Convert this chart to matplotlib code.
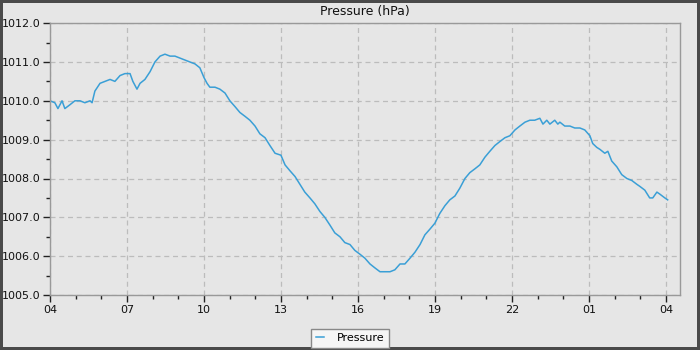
import matplotlib
matplotlib.use("Agg")
import matplotlib.pyplot as plt
import matplotlib.dates as mdates
import numpy as np
import pandas as pd

# Hours elapsed since 04:00 and the pressure reading at each time
hours = [0, 0.19, 0.31, 0.47, 0.58, 0.78, 0.97, 1.17, 1.36, 1.56, 1.64, 1.75, 1.95,
         2.14, 2.34, 2.53, 2.73, 2.92, 3.12, 3.23, 3.39, 3.51, 3.70, 3.90, 4.09,
         4.29, 4.48, 4.68, 4.87, 5.06, 5.26, 5.45, 5.65, 5.84, 6.0, 6.12, 6.23,
         6.43, 6.62, 6.82, 7.01, 7.21, 7.40, 7.60, 7.79, 7.99, 8.18, 8.38, 8.57,
         8.77, 9.0, 9.16, 9.35, 9.55, 9.74, 9.93, 10.13, 10.32, 10.52, 10.71,
         10.91, 11.10, 11.30, 11.49, 11.69, 11.88, 12.08, 12.27, 12.47, 12.66,
         12.86, 13.05, 13.25, 13.44, 13.64, 13.83, 14.03, 14.22, 14.42, 14.61,
         14.81, 15.0, 15.19, 15.39, 15.58, 15.78, 15.97, 16.17, 16.36, 16.56,
         16.75, 16.95, 17.14, 17.34, 17.53, 17.73, 17.92, 18.12, 18.31, 18.51,
         18.70, 18.89, 19.09, 19.21, 19.36, 19.48, 19.67, 19.79, 19.87, 20.06,
         20.26, 20.45, 20.65, 20.84, 21.04, 21.15, 21.31, 21.43, 21.62, 21.74,
         21.89, 22.09, 22.28, 22.48, 22.67, 22.87, 22.98, 23.18, 23.37, 23.49,
         23.65, 23.76, 23.96, 24.07]
pressure = [1010.0, 1009.95, 1009.8, 1010.0, 1009.8, 1009.9, 1010.0, 1010.0, 1009.95,
            1010.0, 1009.95, 1010.25, 1010.45, 1010.5, 1010.55, 1010.5, 1010.65,
            1010.7, 1010.7, 1010.5, 1010.3, 1010.45, 1010.55, 1010.75, 1011.0,
            1011.15, 1011.2, 1011.15, 1011.15, 1011.1, 1011.05, 1011.0, 1010.95,
            1010.85, 1010.6, 1010.45, 1010.35, 1010.35, 1010.3, 1010.2, 1010.0,
            1009.85, 1009.7, 1009.6, 1009.5, 1009.35, 1009.15, 1009.05, 1008.85,
            1008.65, 1008.6, 1008.35, 1008.2, 1008.05, 1007.85, 1007.65, 1007.5,
            1007.35, 1007.15, 1007.0, 1006.8, 1006.6, 1006.5, 1006.35, 1006.3,
            1006.15, 1006.05, 1005.95, 1005.8, 1005.7, 1005.6, 1005.6, 1005.6,
            1005.65, 1005.8, 1005.8, 1005.95, 1006.1, 1006.3, 1006.55, 1006.7,
            1006.85, 1007.1, 1007.3, 1007.45, 1007.55, 1007.75, 1008.0, 1008.15,
            1008.25, 1008.35, 1008.55, 1008.7, 1008.85, 1008.95, 1009.05, 1009.1,
            1009.25, 1009.35, 1009.45, 1009.5, 1009.5, 1009.55, 1009.4, 1009.5,
            1009.4, 1009.5, 1009.4, 1009.45, 1009.35, 1009.35, 1009.3, 1009.3,
            1009.25, 1009.1, 1008.9, 1008.8, 1008.75, 1008.65, 1008.7, 1008.45,
            1008.3, 1008.1, 1008.0, 1007.95, 1007.85, 1007.8, 1007.7, 1007.5,
            1007.5, 1007.65, 1007.6, 1007.5, 1007.45]

start = pd.Timestamp("2024-01-01 04:00")
times = start + pd.to_timedelta(hours, unit="h")

bg = "#e6e6e6"
fig = plt.figure(figsize=(7, 3.5), dpi=100, facecolor=bg,
                 edgecolor="#4a4a4a", linewidth=3)
ax = fig.add_axes([0.0714, 0.157, 0.9, 0.777])
ax.set_facecolor(bg)

ax.plot(times, pressure, color="#3a9fd6", linewidth=1.1, label="Pressure")

ax.set_ylim(1005.0, 1012.0)
ax.set_xlim(start, start + pd.Timedelta(hours=24.55))
ax.yaxis.set_major_locator(plt.MultipleLocator(1.0))
ax.yaxis.set_minor_locator(plt.MultipleLocator(0.5))
ax.yaxis.set_major_formatter(plt.FormatStrFormatter("%.1f"))
ax.xaxis.set_major_locator(mdates.HourLocator(byhour=range(1, 24, 3)))
ax.xaxis.set_minor_locator(mdates.HourLocator())
ax.xaxis.set_major_formatter(mdates.DateFormatter("%H"))

ax.grid(True, which="major", color="#bcbcbc", linestyle=(0, (4, 3)), linewidth=0.9)
for s in ax.spines.values():
    s.set_color("#999999")
    s.set_linewidth(1.0)
ax.tick_params(which="major", length=5, width=1, color="#222222",
               labelsize=8, labelcolor="#111111", pad=2)
ax.tick_params(which="minor", length=3, width=1, color="#222222")

ax.set_title("Pressure (hPa)", fontsize=9, color="#111111", pad=6)

leg = fig.legend(loc="lower center", bbox_to_anchor=(0.5, 0.0), fontsize=8,
                 frameon=True, fancybox=False, handlelength=0.75,
                 borderpad=0.4, handletextpad=1.1, borderaxespad=0.2)
leg.get_frame().set_edgecolor("#888888")
leg.get_frame().set_facecolor("#f5f5f5")
leg.get_frame().set_alpha(1.0)

fig.savefig("out.png", dpi=100, facecolor=bg, edgecolor="#4a4a4a")
